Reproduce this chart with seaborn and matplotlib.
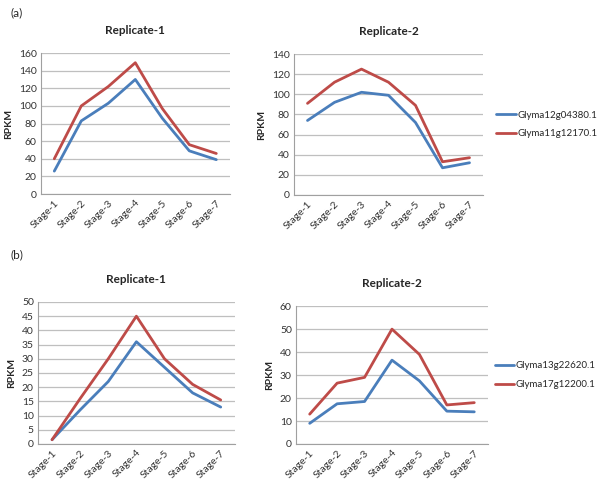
import numpy as np
import pandas as pd
import seaborn as sns
import matplotlib.pyplot as plt

stages = ["Stage-1", "Stage-2", "Stage-3", "Stage-4", "Stage-5", "Stage-6", "Stage-7"]

genes_a = ["Glyma12g04380.1", "Glyma11g12170.1"]
a_rep1_blue = [26, 83, 103, 130, 86, 49, 39]
a_rep1_red = [40, 100, 122, 149, 97, 56, 46]
a_rep2_blue = [74, 92, 102, 99, 72, 27, 32]
a_rep2_red = [91, 112, 125, 112, 89, 33, 37]

genes_b = ["Glyma13g22620.1", "Glyma17g12200.1"]
b_rep1_blue = [1.5, 12, 22, 36, 27, 18, 13]
b_rep1_red = [1.5, 16, 30, 45, 30, 21, 15.5]
b_rep2_blue = [9, 17.5, 18.5, 36.5, 27.5, 14.3, 14]
b_rep2_red = [13, 26.5, 29, 50, 39, 17, 18]

BLUE = "#4A7EBB"
RED = "#BE4B48"

sns.set_theme(style="white")
plt.rcParams['font.family'] = ['Lato', 'DejaVu Sans']

fig = plt.figure(figsize=(6, 4.87), dpi=100)


def make_df(genes, blue, red):
    return pd.DataFrame({
        "stage": stages * 2,
        "x": list(range(len(stages))) * 2,
        "RPKM": blue + red,
        "gene": [genes[0]] * len(stages) + [genes[1]] * len(stages),
    })


def panel(rect, df, genes, title, ymax, step, legend_x=None):
    ax = fig.add_axes(rect)
    sns.lineplot(data=df, x="x", y="RPKM", hue="gene", hue_order=genes,
                 palette=[BLUE, RED], linewidth=2, ax=ax, legend=legend_x is not None)
    ax.set_xlim(-0.5, len(stages) - 0.5)
    ax.set_ylim(0, ymax)
    ax.set_yticks(np.arange(0, ymax + step / 2, step))
    ax.set_xticks(range(len(stages)))
    ax.set_xticklabels(stages, rotation=45, ha="right", rotation_mode="anchor")
    ax.tick_params(axis="both", labelsize=7.5, colors="#333333", length=0, pad=3)
    ax.yaxis.grid(True, color="#BFBFBF", linewidth=0.9)
    ax.set_axisbelow(True)
    for s in ["top", "right"]:
        ax.spines[s].set_visible(False)
    for s in ["left", "bottom"]:
        ax.spines[s].set_color("#A0A0A0")
        ax.spines[s].set_linewidth(0.8)
    ax.set_xlabel("")
    ax.set_ylabel("RPKM", fontsize=7.5, fontweight="bold", labelpad=4)
    ax.set_title(title, fontsize=8.5, fontweight="bold", pad=14)
    if legend_x is not None:
        ax.legend(loc="center left", bbox_to_anchor=(legend_x, 0.5), frameon=False,
                  fontsize=7, handlelength=2.0, handletextpad=0.15, labelspacing=1.0,
                  borderaxespad=0, borderpad=0)
    return ax


panel([0.068, 0.6016, 0.315, 0.2895], make_df(genes_a, a_rep1_blue, a_rep1_red),
      genes_a, "Replicate-1", 160, 20)
panel([0.49, 0.5996, 0.315, 0.2895], make_df(genes_a, a_rep2_blue, a_rep2_red),
      genes_a, "Replicate-2", 140, 20, legend_x=1.07)
panel([0.0633, 0.0883, 0.328, 0.2916], make_df(genes_b, b_rep1_blue, b_rep1_red),
      genes_b, "Replicate-1", 50, 5)
panel([0.4933, 0.0883, 0.32, 0.283], make_df(genes_b, b_rep2_blue, b_rep2_red),
      genes_b, "Replicate-2", 60, 10, legend_x=1.035)

fig.text(0.018, 0.985, "(a)", fontsize=8.5, va="top")
fig.text(0.018, 0.488, "(b)", fontsize=8.5, va="top")

fig.savefig("out.png", dpi=100)
